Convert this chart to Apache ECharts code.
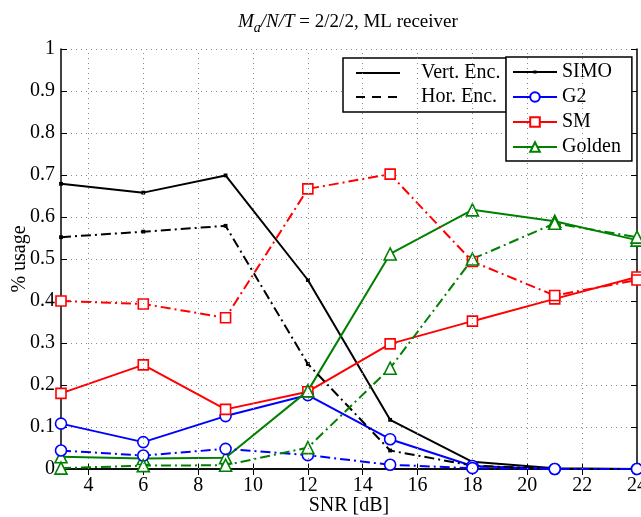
<!DOCTYPE html>
<html>
<head>
<meta charset="utf-8">
<script src="https://cdn.jsdelivr.net/npm/echarts@6/dist/echarts.min.js"></script>
<style>
  html,body{margin:0;padding:0;background:#fff;}
  #chart{width:641px;height:517px;}
</style>
</head>
<body>
<div id="chart"></div>
<script>
// SNR points (dB)
const snr = [3, 6, 9, 12, 15, 18, 21, 24];
const xTicks = [4, 6, 8, 10, 12, 14, 16, 18, 20, 22, 24];

// vertical encoding (solid)
const simoVert = [0.679, 0.658, 0.699, 0.45, 0.117, 0.017, 0.002, 0.0];
const g2Vert = [0.108, 0.064, 0.126, 0.176, 0.071, 0.007, 0.0, 0.0];
const smVert = [0.18, 0.248, 0.142, 0.184, 0.298, 0.352, 0.405, 0.457];
const goldenVert = [0.029, 0.025, 0.027, 0.186, 0.512, 0.617, 0.59, 0.545];

// horizontal encoding (dash-dot)
const simoHor = [0.552, 0.565, 0.579, 0.25, 0.044, 0.008, 0.0, 0.0];
const g2Hor = [0.044, 0.032, 0.048, 0.033, 0.01, 0.002, 0.0, 0.0];
const smHor = [0.40, 0.393, 0.36, 0.667, 0.702, 0.494, 0.413, 0.45];
const goldenHor = [0.002, 0.008, 0.009, 0.051, 0.24, 0.50, 0.585, 0.552];

const FONT = "Liberation Serif";
const dashDot = [10, 4, 2, 4];
// small dot inside a 10x10 box so the legend icon stays tiny
const dotPath = "path://M0 0M10 10M3.4 3.4L6.6 3.4L6.6 6.6L3.4 6.6Z";

function pts(ys){
  return snr.map((x,i)=>[x, ys[i]]);
}

function line(name, ys, color, symbol, size, dashed){
  let dot = symbol === dotPath;
  return {
    name: name,
    type: "line",
    data: pts(ys),
    symbol: symbol,
    symbolSize: size,
    showAllSymbol: true,
    color: color,
    itemStyle: {color: dot ? color : "#fff", borderColor: color, borderWidth: dot ? 0 : 1.6},
    lineStyle: {color: color, width: 2, type: dashed ? dashDot : "solid"},
    emphasis: {disabled: true},
    z: 3
  };
}

let myChart = echarts.init(document.getElementById("chart"));
myChart.setOption({
  animation: false,
  backgroundColor: "#fff",
  title: {
    text: "{i|M}{s|a}{i|/N/T}{n| = 2/2/2, ML receiver}",
    left: 233,
    top: 4,
    textStyle: {
      rich: {
        i: {fontFamily: FONT, fontSize: 19, fontStyle: "italic", fontWeight: "normal", color: "#000"},
        s: {fontFamily: FONT, fontSize: 14, fontStyle: "italic", fontWeight: "normal", color: "#000", verticalAlign: "bottom", padding: [12, 0, 0, 0]},
        n: {fontFamily: FONT, fontSize: 19, fontWeight: "normal", color: "#000"}
      }
    }
  },
  grid: {left: 61, right: 4, top: 49, bottom: 48, outerBoundsMode: "none", containLabel: false},
  legend: [
    {
      data: [
        {name: "Vert. Enc.", itemStyle: {opacity: 0}},
        {name: "Hor. Enc.", itemStyle: {opacity: 0}}
      ],
      orient: "vertical",
      left: 343,
      top: 58,
      width: 160,
      padding: [5, 6, 5, 12],
      itemWidth: 44,
      itemHeight: 14,
      itemGap: 4,
      borderColor: "#000",
      borderWidth: 1.5,
      backgroundColor: "#fff",
      selectedMode: false,
      textStyle: {fontFamily: FONT, fontSize: 20, color: "#000", padding: [0, 0, 0, 16], lineHeight: 20}
    },
    {
      data: ["SIMO", "G2", "SM", "Golden"],
      orient: "vertical",
      left: 506,
      top: 57,
      padding: [5, 11, 4, 6],
      itemWidth: 44,
      itemHeight: 12,
      itemGap: 5,
      borderColor: "#000",
      borderWidth: 1.5,
      backgroundColor: "#fff",
      selectedMode: false,
      textStyle: {fontFamily: FONT, fontSize: 20, color: "#000", lineHeight: 20}
    }
  ],
  xAxis: [
    {
      type: "value",
      min: 3,
      max: 24,
      position: "bottom",
      name: "SNR [dB]",
      nameLocation: "middle",
      nameGap: 27,
      nameMoveOverlap: false,
      nameTextStyle: {fontFamily: FONT, fontSize: 20, color: "#000"},
      axisLine: {lineStyle: {color: "#000", width: 1.5}},
      axisTick: {inside: true, length: 6, customValues: xTicks, lineStyle: {color: "#000"}},
      axisLabel: {customValues: xTicks, fontFamily: FONT, fontSize: 20, color: "#000", margin: 7},
      splitLine: {show: false}
    },
    {
      type: "value",
      min: 3,
      max: 24,
      position: "top",
      axisLine: {lineStyle: {color: "#000", width: 1.5}},
      axisTick: {inside: true, length: 6, customValues: xTicks, lineStyle: {color: "#000"}},
      axisLabel: {show: false},
      splitLine: {show: false}
    }
  ],
  yAxis: [
    {
      type: "value",
      min: 0,
      max: 1,
      interval: 0.1,
      name: "% usage",
      nameLocation: "middle",
      nameGap: 31,
      nameMoveOverlap: false,
      nameTextStyle: {fontFamily: FONT, fontSize: 20, color: "#000"},
      axisLine: {show: true, lineStyle: {color: "#000", width: 1.5}},
      axisTick: {show: true, inside: true, length: 6, lineStyle: {color: "#000"}},
      axisLabel: {fontFamily: FONT, fontSize: 20, color: "#000", margin: 6},
      splitLine: {show: true, lineStyle: {color: "#888", width: 1, type: [1, 4]}}
    },
    {
      type: "value",
      min: 0,
      max: 1,
      interval: 0.1,
      position: "right",
      axisLine: {show: true, lineStyle: {color: "#000", width: 1.5}},
      axisTick: {show: true, inside: true, length: 6, lineStyle: {color: "#000"}},
      axisLabel: {show: false},
      splitLine: {show: false}
    }
  ],
  series: [
    {
      // vertical dotted grid lines
      name: "grid",
      type: "line",
      data: [],
      z: 1,
      markLine: {
        silent: true,
        symbol: ["none", "none"],
        label: {show: false},
        lineStyle: {color: "#888", width: 1, type: [1, 4]},
        data: xTicks.slice(0, -1).map(v => ({xAxis: v}))
      }
    },
    {name: "Vert. Enc.", type: "line", data: [], symbol: "none", color: "#000", lineStyle: {color: "#000", width: 2}},
    {name: "Hor. Enc.", type: "line", data: [], symbol: "none", color: "#000", lineStyle: {color: "#000", width: 2, type: [9, 7]}},
    line("SIMO", simoVert, "#000", dotPath, 12, false),
    line("G2", g2Vert, "#0000ff", "circle", 11, false),
    line("SM", smVert, "#ff0000", "rect", 10, false),
    line("Golden", goldenVert, "#008000", "triangle", 12, false),
    line("SIMO", simoHor, "#000", dotPath, 12, true),
    line("G2", g2Hor, "#0000ff", "circle", 11, true),
    line("SM", smHor, "#ff0000", "rect", 10, true),
    line("Golden", goldenHor, "#008000", "triangle", 12, true)
  ]
});
</script>
</body>
</html>
